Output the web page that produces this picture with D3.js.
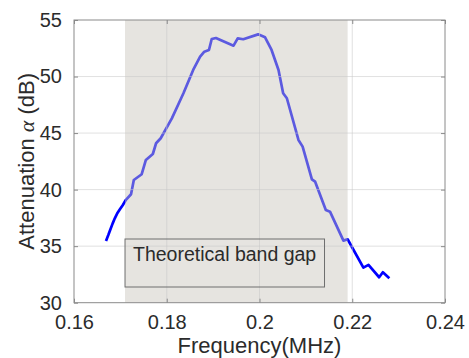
<!DOCTYPE html>
<html>
<head>
<meta charset="utf-8">
<script src="https://cdn.jsdelivr.net/npm/d3@7"></script>
<style>
  html, body { margin: 0; padding: 0; background: #fff; }
  svg { display: block; font-family: "Liberation Sans", Arial, sans-serif; }
</style>
</head>
<body>
<svg id="chart" width="469" height="358"></svg>
<script>
// Measured attenuation across the sweep
const frequency = [
  0.1669, 0.1674, 0.1678, 0.1683, 0.1688, 0.1693, 0.1699, 0.1705, 0.1712, 0.1723,
  0.1729, 0.1746, 0.1755, 0.1770, 0.1777, 0.1787, 0.1811, 0.1836, 0.1857, 0.1872,
  0.1881, 0.1891, 0.1897, 0.1906, 0.1944, 0.1953, 0.1965, 0.1997, 0.2012, 0.2026,
  0.2041, 0.2051, 0.2059, 0.2084, 0.2093, 0.2113, 0.2120, 0.2143, 0.2152, 0.2181,
  0.2190, 0.2224, 0.2235, 0.2258, 0.2266, 0.2280
];
const attenuation = [
  35.46, 35.98, 36.43, 36.97, 37.46, 37.88, 38.26, 38.62, 39.10, 39.59,
  40.85, 41.36, 42.62, 43.15, 44.10, 44.54, 46.30, 48.52, 50.58, 51.76,
  52.20, 52.35, 53.32, 53.41, 52.73, 53.38, 53.30, 53.73, 53.47, 52.35,
  50.58, 48.52, 48.08, 44.39, 43.80, 40.91, 40.70, 38.20, 38.05, 35.49,
  35.61, 33.10, 33.34, 32.25, 32.69, 32.16
];

// Theoretical band gap limits (MHz)
const bandGap = [0.171, 0.219];
const bandGapLabel = "Theoretical band gap";

const xTicks = [0.16, 0.18, 0.2, 0.22, 0.24];
const yTicks = [30, 35, 40, 45, 50, 55];
const xDomain = [0.16, 0.24];
const yDomain = [30, 55];

const svg = d3.select("#chart");
const m = { left: 74, top: 20, right: 445, bottom: 302.7 };

const x = d3.scaleLinear().domain(xDomain).range([m.left, m.right]);
const y = d3.scaleLinear().domain(yDomain).range([m.bottom, m.top]);

const axisColor = "#8a8a8a";
const textColor = "#2b2b2b";

// Grid
const grid = svg.append("g");
grid.selectAll("line.gx").data(xTicks.slice(1, -1)).join("line")
  .attr("x1", d => x(d)).attr("x2", d => x(d))
  .attr("y1", m.top).attr("y2", m.bottom)
  .attr("stroke", "#e4e4e4").attr("stroke-width", 1);
grid.selectAll("line.gy").data(yTicks.slice(1, -1)).join("line")
  .attr("x1", m.left).attr("x2", m.right)
  .attr("y1", d => y(d)).attr("y2", d => y(d))
  .attr("stroke", "#e4e4e4").attr("stroke-width", 1);

// Attenuation curve
const pts = frequency.map((f, i) => [f, attenuation[i]]);
const line = d3.line().x(d => x(d[0])).y(d => y(d[1]));
svg.append("path")
  .datum(pts)
  .attr("d", line)
  .attr("fill", "none")
  .attr("stroke", "#0000ff")
  .attr("stroke-width", 2.7)
  .attr("stroke-linejoin", "round");

// Band gap region (translucent patch over the curve)
svg.append("rect")
  .attr("x", x(bandGap[0]))
  .attr("y", m.top)
  .attr("width", x(bandGap[1]) - x(bandGap[0]))
  .attr("height", m.bottom - m.top)
  .attr("fill", "rgb(200,197,187)")
  .attr("fill-opacity", 0.46);

// Grid lines show faintly through the patch
grid.raise();
grid.selectAll("line").attr("stroke-opacity", 0.55).attr("stroke", "#c8c8c8");

// Label box
svg.append("rect")
  .attr("x", x(bandGap[0]))
  .attr("y", 239)
  .attr("width", 199.5)
  .attr("height", 48)
  .attr("fill", "none")
  .attr("stroke", "#6e6e6e")
  .attr("stroke-width", 1);
svg.append("text")
  .attr("x", x(bandGap[0]) + 8)
  .attr("y", 261)
  .attr("font-size", 19.5)
  .attr("fill", textColor)
  .text(bandGapLabel);

// Axes box
const axes = svg.append("g");
axes.append("rect")
  .attr("x", m.left).attr("y", m.top)
  .attr("width", m.right - m.left).attr("height", m.bottom - m.top)
  .attr("fill", "none").attr("stroke", axisColor).attr("stroke-width", 1);

const tickLen = 4;
// Bottom axis
const xAxis = d3.axisBottom(x).tickValues(xTicks).tickSizeInner(-tickLen).tickSizeOuter(0)
  .tickPadding(12).tickFormat(d3.format("~g"));
const gx = svg.append("g").attr("transform", `translate(0,${m.bottom})`).call(xAxis);
// Top ticks
const gxt = svg.append("g").attr("transform", `translate(0,${m.top})`)
  .call(d3.axisTop(x).tickValues(xTicks).tickSizeInner(-tickLen).tickSizeOuter(0).tickFormat(""));
// Left axis
const yAxis = d3.axisLeft(y).tickValues(yTicks).tickSizeInner(-tickLen).tickSizeOuter(0)
  .tickPadding(12);
const gy = svg.append("g").attr("transform", `translate(${m.left},0)`).call(yAxis);
// Right ticks
const gyr = svg.append("g").attr("transform", `translate(${m.right},0)`)
  .call(d3.axisRight(y).tickValues(yTicks).tickSizeInner(-tickLen).tickSizeOuter(0).tickFormat(""));

[gx, gxt, gy, gyr].forEach(g => {
  g.select(".domain").remove();
  g.selectAll(".tick line").attr("stroke", axisColor);
  g.selectAll(".tick text")
    .attr("fill", textColor)
    .attr("font-size", 20)
    .attr("font-family", "'Liberation Sans', Arial, sans-serif");
});

// Axis titles
svg.append("text")
  .attr("x", (m.left + m.right) / 2)
  .attr("y", 353)
  .attr("text-anchor", "middle")
  .attr("font-size", 22)
  .attr("fill", textColor)
  .text("Frequency(MHz)");

const yl = svg.append("text")
  .attr("transform", `translate(34,${(m.top + m.bottom) / 2}) rotate(-90)`)
  .attr("text-anchor", "middle")
  .attr("font-size", 22)
  .attr("fill", textColor);
yl.append("tspan").text("Attenuation ");
yl.append("tspan").attr("font-family", "'Liberation Serif', 'Times New Roman', serif")
  .attr("font-style", "italic").text("α");
yl.append("tspan").text(" (dB)");
</script>
</body>
</html>
